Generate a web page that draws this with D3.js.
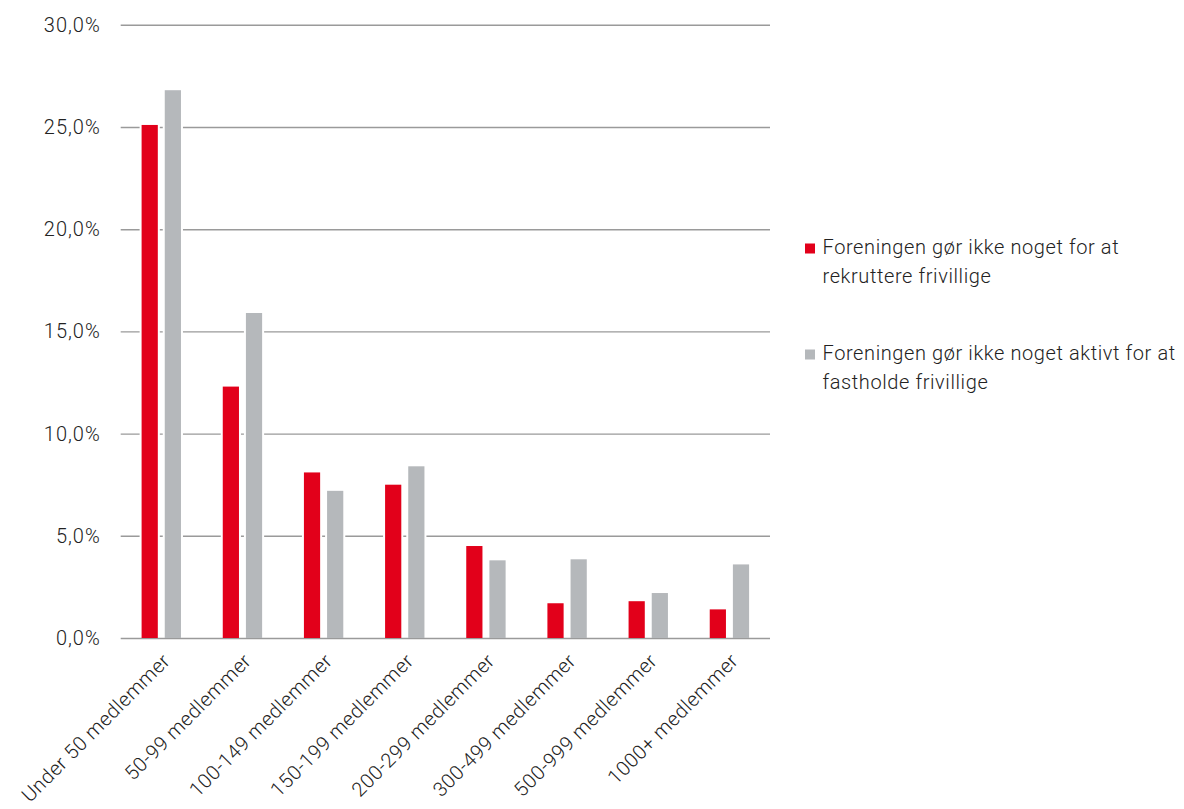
<!DOCTYPE html>
<html>
<head>
<meta charset="utf-8">
<script src="https://cdn.jsdelivr.net/npm/d3@7"></script>
<style>
  body { margin: 0; background: #fff; }
  text { font-family: Roboto, "Open Sans", sans-serif; font-weight: 300; fill: #222; }
</style>
</head>
<body>
<script>
const categories = ["Under 50 medlemmer", "50-99 medlemmer", "100-149 medlemmer", "150-199 medlemmer",
    "200-299 medlemmer", "300-499 medlemmer", "500-999 medlemmer", "1000+ medlemmer"];
const seriesNames = ["Foreningen gør ikke noget for at rekruttere frivillige",
    "Foreningen gør ikke noget aktivt for at fastholde frivillige"];
const rekruttere = [25.1, 12.3, 8.1, 7.5, 4.5, 1.7, 1.8, 1.4];
const fastholde = [26.8, 15.9, 7.2, 8.4, 3.8, 3.85, 2.2, 3.6];
const yTicks = [0, 5, 10, 15, 20, 25, 30];
const legendLines = [["Foreningen gør ikke noget for at", "rekruttere frivillige"],
    ["Foreningen gør ikke noget aktivt for at", "fastholde frivillige"]];
const colors = ["#e2001a", "#b5b8bb"];

const W = 1184, H = 809;
const mLeft = 120.7, mRight = 770, mTop = 24.8, mBottom = 638;

const svg = d3.select("body").append("svg")
    .attr("width", W)
    .attr("height", H);

const y = d3.scaleLinear().domain([0, 30]).range([mBottom, mTop]);
const x0 = d3.scaleBand().domain(categories).range([mLeft, mRight])
    .paddingInner(0.515).paddingOuter(0.2575);
const x1 = d3.scaleBand().domain([0, 1]).range([0, x0.bandwidth()]).paddingInner(0.3);

// gridlines + tick labels
const yAxis = d3.axisLeft(y).tickValues(yTicks)
    .tickSize(-(mRight - mLeft))
    .tickFormat(d => d3.format(".1f")(d).replace(".", ",") + "%");

const gy = svg.append("g").attr("transform", `translate(${mLeft},0)`).call(yAxis);
gy.select(".domain").remove();
gy.selectAll(".tick line").attr("stroke", "#9a9a9a").attr("stroke-width", 1.4);
gy.selectAll(".tick text")
    .attr("x", -20)
    .attr("font-size", 20)
    .attr("fill", "#222")
    .style("font-family", "Roboto, sans-serif")
    .style("font-weight", 300)
    .style("letter-spacing", "1px");

// bars
const rows = categories.map((c, i) => ({cat: c, vals: [rekruttere[i], fastholde[i]]}));
const groups = svg.append("g").selectAll("g")
    .data(rows)
    .join("g")
    .attr("transform", d => `translate(${x0(d.cat)},0)`);

const bars = groups.selectAll("g")
    .data(d => d.vals.map((v, k) => ({k, v})))
    .join("g");

// white halo so the gridlines break around the bars
bars.append("rect")
    .attr("x", d => x1(d.k) - 2)
    .attr("width", x1.bandwidth() + 4)
    .attr("y", d => y(d.v))
    .attr("height", d => y(0) - y(d.v) - 1)
    .attr("fill", "#fff");

bars.append("rect")
    .attr("x", d => x1(d.k))
    .attr("width", x1.bandwidth())
    .attr("y", d => y(d.v))
    .attr("height", d => y(0) - y(d.v))
    .attr("fill", d => colors[d.k]);

// x labels
svg.append("g").selectAll("text")
    .data(categories)
    .join("text")
    .attr("transform", d => `translate(${x0(d) + x0.bandwidth() / 2 + 10},${mBottom + 24}) rotate(-45)`)
    .attr("text-anchor", "end")
    .attr("font-size", 20)
    .style("letter-spacing", "0.5px")
    .text(d => d);

// legend
const legend = svg.append("g").attr("transform", "translate(805,0)");
const legendY = [243.5, 349.5];
legendLines.forEach((lines, i) => {
    const g = legend.append("g").attr("transform", `translate(0,${legendY[i]})`);
    g.append("rect").attr("width", 10).attr("height", 10).attr("fill", colors[i]);
    g.selectAll("text")
        .data(lines)
        .join("text")
        .attr("x", 17.5)
        .attr("y", (d, j) => 10.5 + j * 29)
        .attr("font-size", 20)
        .style("letter-spacing", "0.6px")
        .text(d => d);
});
</script>
</body>
</html>
